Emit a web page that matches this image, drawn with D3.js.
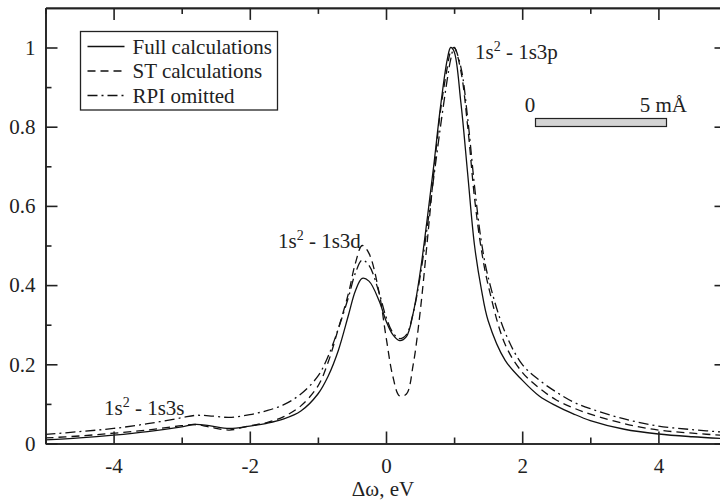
<!DOCTYPE html>
<html>
<head>
<script src="https://d3js.org/d3.v7.min.js"></script>
<style>
  body { margin: 0; background: #fff; }
  .axis path, .axis line { stroke: #222; stroke-width: 1.6px; }
  .curve { fill: none; stroke: #111; stroke-width: 1.3px; }
</style>
</head>
<body>
<script>
// energy detuning grid (eV)
var xs = [-5, -4.5, -4, -3.5, -3, -2.8, -2.6, -2.3, -2, -1.75, -1.5, -1.25, -1, -0.85, -0.7, -0.55, -0.45,
          -0.35, -0.25, -0.1, 0, 0.1, 0.2, 0.3, 0.4, 0.5, 0.6, 0.7, 0.8, 0.9, 0.95, 1.0, 1.1, 1.2, 1.3,
          1.4, 1.5, 1.75, 2.0, 2.25, 2.5, 2.75, 3.0, 3.5, 4.0, 4.5, 5.0];
var full = [0.009, 0.014, 0.021, 0.030, 0.042, 0.048, 0.045, 0.038, 0.044, 0.051, 0.062, 0.082, 0.125, 0.17,
            0.235, 0.325, 0.385, 0.417, 0.41, 0.36, 0.31, 0.275, 0.26, 0.27, 0.33, 0.43, 0.56, 0.70, 0.85,
            0.97, 1.0, 0.99, 0.86, 0.68, 0.50, 0.39, 0.31, 0.21, 0.16, 0.12, 0.095, 0.075, 0.058, 0.036,
            0.024, 0.017, 0.012];
var st = [0.014, 0.019, 0.026, 0.034, 0.045, 0.048, 0.042, 0.034, 0.045, 0.053, 0.068, 0.095, 0.145, 0.205,
          0.29, 0.38, 0.455, 0.50, 0.48, 0.38, 0.27, 0.17, 0.12, 0.125, 0.20, 0.33, 0.50, 0.68, 0.84,
          0.95, 0.99, 1.0, 0.94, 0.80, 0.62, 0.49, 0.40, 0.25, 0.18, 0.14, 0.11, 0.09, 0.074, 0.05,
          0.034, 0.026, 0.02];
var rpi = [0.023, 0.030, 0.038, 0.05, 0.065, 0.071, 0.070, 0.066, 0.073, 0.083, 0.098, 0.125, 0.17, 0.22,
           0.29, 0.37, 0.43, 0.463, 0.45, 0.38, 0.32, 0.28, 0.265, 0.275, 0.33, 0.42, 0.54, 0.67, 0.80,
           0.92, 0.97, 1.0, 0.95, 0.82, 0.65, 0.51, 0.42, 0.28, 0.20, 0.16, 0.13, 0.105, 0.088, 0.062,
           0.044, 0.035, 0.028];
var seriesNames = ['Full calculations', 'ST calculations', 'RPI omitted'];
var xTicks = [-4, -2, 0, 2, 4];
var xMinor = [-5, -3, -1, 1, 3, 5];
var yTicks = [0, 0.2, 0.4, 0.6, 0.8, 1];
var yMinor = [0.1, 0.3, 0.5, 0.7, 0.9];

var W = 720, H = 501;
var svg = d3.select('body').append('svg').attr('width', W).attr('height', H);

var x = d3.scaleLinear().domain([-5, 5]).range([45.5, 726.5]);
var y = d3.scaleLinear().domain([0, 1.1]).range([443.5, 7.9]);

var dashes = ['none', '8,5', '10,4,2,4'];
var data = [full, st, rpi];

var line = d3.line()
    .x(function (d) { return x(d[0]); })
    .y(function (d) { return y(d[1]); })
    .curve(d3.curveCatmullRom.alpha(0.5));

svg.selectAll('path.curve')
    .data(data)
    .enter().append('path')
    .attr('class', 'curve')
    .attr('stroke-dasharray', function (d, i) { return dashes[i]; })
    .attr('d', function (d) { return line(xs.map(function (v, j) { return [v, d[j]]; })); });

// axes, ticks inward on all sides; plain hyphen for negatives
function fmt(d) { return String(d); }
svg.append('g').attr('class', 'axis').attr('transform', 'translate(0,' + y(0) + ')')
    .call(d3.axisBottom(x).tickValues(xTicks).tickSizeInner(-12).tickSizeOuter(0).tickPadding(15).tickFormat(fmt));
svg.append('g').attr('class', 'axis').attr('transform', 'translate(0,' + y(0) + ')')
    .call(d3.axisBottom(x).tickValues(xMinor).tickSizeInner(-6).tickSizeOuter(0).tickFormat(''));
svg.append('g').attr('class', 'axis').attr('transform', 'translate(0,' + y(1.1) + ')')
    .call(d3.axisTop(x).tickValues(xTicks).tickSizeInner(-12).tickSizeOuter(0).tickFormat(''));
svg.append('g').attr('class', 'axis').attr('transform', 'translate(0,' + y(1.1) + ')')
    .call(d3.axisTop(x).tickValues(xMinor).tickSizeInner(-6).tickSizeOuter(0).tickFormat(''));
svg.append('g').attr('class', 'axis').attr('transform', 'translate(' + x(-5) + ',0)')
    .call(d3.axisLeft(y).tickValues(yTicks).tickSizeInner(-12).tickSizeOuter(0).tickPadding(10).tickFormat(fmt));
svg.append('g').attr('class', 'axis').attr('transform', 'translate(' + x(-5) + ',0)')
    .call(d3.axisLeft(y).tickValues(yMinor).tickSizeInner(-6).tickSizeOuter(0).tickFormat(''));
svg.append('g').attr('class', 'axis').attr('transform', 'translate(' + x(5) + ',0)')
    .call(d3.axisRight(y).tickValues(yTicks).tickSizeInner(-12).tickSizeOuter(0).tickFormat(''));
svg.append('g').attr('class', 'axis').attr('transform', 'translate(' + x(5) + ',0)')
    .call(d3.axisRight(y).tickValues(yMinor).tickSizeInner(-6).tickSizeOuter(0).tickFormat(''));
svg.selectAll('.axis text').attr('font-size', 21);

svg.append('text').attr('x', 383).attr('y', 496).attr('text-anchor', 'middle').attr('font-size', 21)
    .text('Δω, eV');

// legend
var lg = svg.append('g').attr('transform', 'translate(80.5,31.5)');
lg.append('rect').attr('width', 197).attr('height', 78.5).attr('fill', '#fff')
    .attr('stroke', '#222').attr('stroke-width', 1.3);
var rows = lg.selectAll('g.row').data(seriesNames).enter().append('g')
    .attr('transform', function (d, i) { return 'translate(0,' + (15 + i * 24.5) + ')'; });
rows.append('line').attr('x1', 7).attr('x2', 44).attr('class', 'curve')
    .attr('stroke-dasharray', function (d, i) { return dashes[i]; });
rows.append('text').attr('x', 52).attr('y', 7).attr('font-size', 21).text(function (d) { return d; });

// transition labels
function label(tx, ty, tail) {
    var t = svg.append('text').attr('x', tx).attr('y', ty).attr('font-size', 21);
    t.append('tspan').text('1s');
    t.append('tspan').attr('font-size', 14).attr('dy', -8).text('2');
    t.append('tspan').attr('dy', 8).text(' - ' + tail);
}
label(475, 59, '1s3p');
label(278, 248, '1s3d');
label(104, 415, '1s3s');

// scale bar 0 .. 5 mÅ
svg.append('text').attr('x', 530).attr('y', 112).attr('text-anchor', 'middle').attr('font-size', 21).text('0');
svg.append('text').attr('x', 687).attr('y', 112).attr('text-anchor', 'end').attr('font-size', 21).text('5 mÅ');
svg.append('rect').attr('x', 535.5).attr('y', 118.5).attr('width', 131).attr('height', 8)
    .attr('fill', '#d4d4d4').attr('stroke', '#222').attr('stroke-width', 1.2);

svg.selectAll('text').style('font-family', "'Liberation Serif'").style('fill', '#222');
</script>
</body>
</html>
